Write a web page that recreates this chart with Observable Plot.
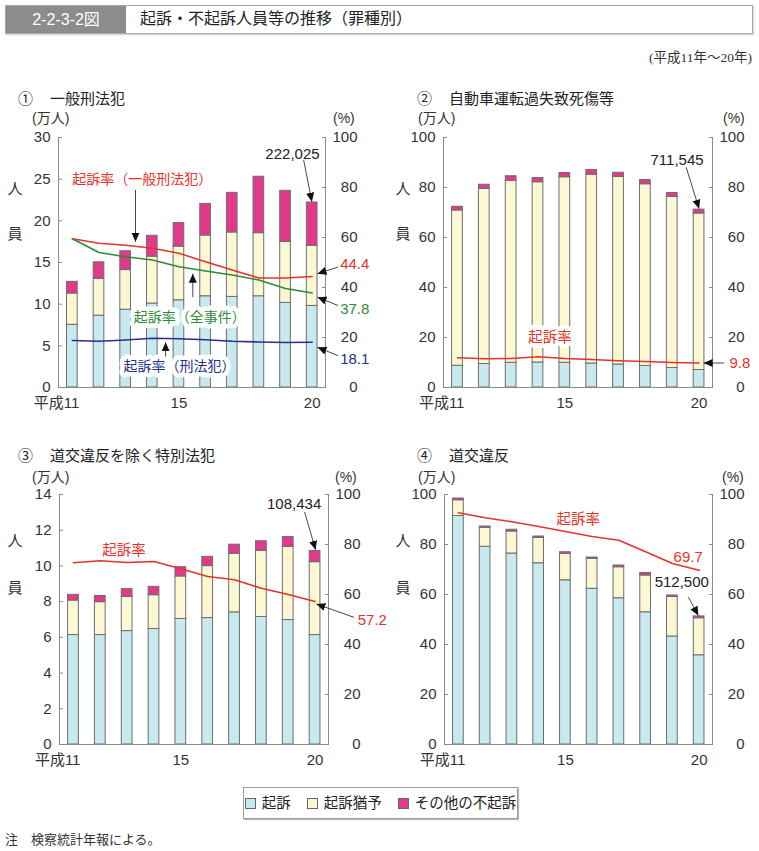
<!DOCTYPE html>
<html><head><meta charset="utf-8">
<script src="https://cdn.jsdelivr.net/npm/d3@7"></script>
<script src="https://cdn.jsdelivr.net/npm/@observablehq/plot@0.6"></script>
<style>
body{margin:0;background:#fff;}
#root{position:relative;width:759px;height:851px;overflow:hidden;font-family:"Liberation Sans","Noto Sans CJK JP",sans-serif;color:#333;}
.abs{position:absolute;white-space:nowrap;line-height:1;}
</style></head><body><div id="root"></div>
<script>
// ---------- data ----------
const years = [11,12,13,14,15,16,17,18,19,20];
const categories = ["起訴","起訴猶予","その他の不起訴"];
const catColors = ["#c8e9ed","#fbf8d3","#e3398a"];
const rateTicks = [0,20,40,60,80,100];
const xLabels = [{year:11,label:"平成11"},{year:15,label:"15"},{year:20,label:"20"}];

// ① 一般刑法犯 (万人)
const p1Kiso  = [7.53,8.62,9.34,10.07,10.47,10.95,10.87,10.95,10.15,9.79];
const p1Yuyo  = [3.75,4.43,4.75,5.63,6.44,7.29,7.73,7.57,7.33,7.21];
const p1Other = [1.40,1.97,2.26,2.50,2.82,3.79,4.76,6.77,6.12,5.20];
const p1RateIppan = [59.5,57.7,56.9,55.7,53.7,50.3,47.0,43.8,43.8,44.4];
const p1RateAll   = [59.5,54.0,52.3,51.0,48.3,46.6,45.0,43.0,39.6,37.8];
const p1RateKeiho = [18.8,18.5,19.0,19.7,19.5,19.1,18.5,18.2,18.0,18.1];
const p1YTicks = [0,5,10,15,20,25,30];

// ② 自動車運転過失致死傷等
const p2Kiso  = [8.7,9.4,9.9,10.0,9.9,9.6,9.2,8.6,7.8,7.0];
const p2Yuyo  = [62.1,70.0,72.8,72.1,74.2,75.5,75.0,72.7,68.4,62.6];
const p2Other = [1.5,1.7,1.8,1.7,1.7,1.9,1.7,1.7,1.6,1.55];
const p2Rate  = [11.9,11.5,11.6,12.3,11.6,11.2,10.7,10.4,10.0,9.8];
const p2YTicks = [0,20,40,60,80,100];

// ③ 道交違反を除く特別法犯
const p3Kiso  = [6.13,6.13,6.35,6.47,7.03,7.08,7.40,7.14,6.97,6.13];
const p3Yuyo  = [1.93,1.84,1.92,1.89,2.38,2.91,3.28,3.71,4.09,4.08];
const p3Other = [0.32,0.35,0.43,0.47,0.52,0.52,0.51,0.53,0.56,0.63];
const p3Rate  = [72.7,73.5,72.8,73.2,70.3,67.2,65.9,62.5,60.0,57.2];
const p3YTicks = [0,2,4,6,8,10,12,14];

// ④ 道交違反
const p4Kiso  = [91.4,79.1,76.4,72.5,65.7,62.3,58.5,52.9,43.2,35.7];
const p4Yuyo  = [6.3,7.6,8.8,10.1,10.5,11.9,12.4,14.7,15.8,14.8];
const p4Other = [0.7,0.5,0.7,0.6,0.7,0.6,0.7,1.0,0.6,0.75];
const p4Rate  = [92.7,90.7,89.1,87.2,85.2,83.2,81.7,77.1,72.4,69.7];
const p4YTicks = [0,20,40,60,80,100];

const RED = "#e6332a", GREEN = "#2f8a3c", BLUE = "#24318e";

// ---------- helpers ----------
const root = document.getElementById("root");
function put(text, x, y, o = {}) {
  const d = document.createElement("div");
  d.className = "abs"; d.textContent = text;
  d.style.left = x + "px"; d.style.top = y + "px";
  const tx = o.align === "right" ? "-100%" : o.align === "center" ? "-50%" : "0";
  d.style.transform = `translate(${tx},-50%)`;
  d.style.fontSize = (o.size || 14) + "px";
  if (o.color) d.style.color = o.color;
  if (o.font) d.style.fontFamily = o.font;
  root.appendChild(d);
  return d;
}

const xDomain = [10.48, 20.5];

function panel(cfg, id) {
  const {kiso, yuyo, other, ymax, yTicks, lines, texts, links, ml, mr, w, left, top} = cfg;
  const rows = [];
  years.forEach((yr, i) => {
    const parts = [kiso[i], yuyo[i], other[i]];
    let base = 0;
    parts.forEach((v, k) => { rows.push({year: yr, cat: categories[k], y1: base, y2: base + v}); base += v; });
  });
  const k = ymax / 100;
  const marks = [
    Plot.rectY(rows, {x1: d => d.year - 0.2, x2: d => d.year + 0.2, y1: "y1", y2: "y2", fill: "cat", stroke: "#6e6e6e", strokeWidth: 1}),
    Plot.ruleY([0], {stroke: "#8a8a8a"}),
    Plot.ruleX(xDomain, {y1: 0, y2: ymax, stroke: "#8a8a8a"}),
    Plot.axisY(yTicks, {anchor: "left", tickSize: -4, tickPadding: 12, stroke: "#8a8a8a", fill: "#333", fontSize: 15}),
    Plot.axisY(rateTicks.map(v => v * k), {anchor: "right", tickSize: -4, tickPadding: 36, textAnchor: "end",
      tickFormat: d => String(Math.round(d / k)), stroke: "#8a8a8a", fill: "#333", fontSize: 15}),
    ...lines.map(L => Plot.line(years.map((yr, i) => ({year: yr, v: L.values[i] * k})), {x: "year", y: "v", stroke: L.color, strokeWidth: 1.6})),
    Plot.text(xLabels.slice(0, 1), {x: "year", y: 0, text: "label", textAnchor: "end", dx: 7, dy: 16, fontSize: 15, fill: "#333"}),
    Plot.text(xLabels.slice(1), {x: "year", y: 0, text: "label", dy: 16, fontSize: 15, fill: "#333"}),
    Plot.link(links, {x1: "x1", y1: "y1", x2: "x2", y2: "y2", stroke: "#333", strokeWidth: 0.9}),
    ...texts.map(t => Plot.text([t], {x: "x", y: "y", text: "text", fill: t.color || "#333",
      textAnchor: t.anchor || "middle", fontSize: t.size || 14,
      ...(t.halo ? {stroke: "white", strokeWidth: 9, strokeLinejoin: "round", paintOrder: "stroke"} : {})}))
  ];
  const svg = Plot.plot({
    width: w, height: 312, marginLeft: ml, marginRight: mr, marginTop: 37, marginBottom: 25,
    x: {domain: xDomain, axis: null},
    y: {domain: [0, ymax]},
    color: {domain: categories, range: catColors},
    style: {fontFamily: '"Liberation Sans","Noto Sans CJK JP",sans-serif', fontSize: "15px", overflow: "visible", background: "transparent", color: "#333"},
    marks
  });
  const ns = "http://www.w3.org/2000/svg";
  const defs = document.createElementNS(ns, "defs");
  const marker = document.createElementNS(ns, "marker");
  marker.setAttribute("id", "ah" + id);
  marker.setAttribute("viewBox", "0 0 10 10");
  marker.setAttribute("refX", "10"); marker.setAttribute("refY", "5");
  marker.setAttribute("markerWidth", "9"); marker.setAttribute("markerHeight", "9");
  marker.setAttribute("markerUnits", "userSpaceOnUse"); marker.setAttribute("orient", "auto");
  const mp = document.createElementNS(ns, "path");
  mp.setAttribute("d", "M0,0.5L10,5L0,9.5Z"); mp.setAttribute("fill", "#111");
  marker.appendChild(mp); defs.appendChild(marker); svg.prepend(defs);
  svg.querySelectorAll('g[aria-label="link"] path').forEach(p => p.setAttribute("marker-end", `url(#ah${id})`));
  svg.style.position = "absolute"; svg.style.left = left + "px"; svg.style.top = top + "px";
  root.appendChild(svg);
}

// ---------- header ----------
const hdr = document.createElement("div");
hdr.className = "abs";
Object.assign(hdr.style, {left: "5px", top: "5px", width: "746px", height: "27px", border: "1px solid #a8a8a8", boxShadow: "1px 1px 2px #ccc", background: "#fff"});
root.appendChild(hdr);
const hb = document.createElement("div");
Object.assign(hb.style, {position: "absolute", left: "0", top: "0", width: "120px", height: "27px", background: "#8c8c8c", color: "#fff",
  fontFamily: '"Liberation Sans Narrow","Liberation Sans","Noto Sans CJK JP",sans-serif', fontSize: "16px", lineHeight: "27px", textAlign: "center"});
hb.textContent = "2-2-3-2図"; hdr.appendChild(hb);
put("起訴・不起訴人員等の推移（罪種別）", 140, 19, {size: 16, color: "#222"});
put("(平成11年〜20年)", 752, 58, {size: 13.5, align: "right", font: '"Liberation Serif","Noto Sans CJK JP",serif', color: "#333"});

// ---------- panel titles / unit labels ----------
function chrome(x0, y0, num, title) {
  put(num, x0 + 18, y0, {size: 15, color: "#222"});
  put(title, x0 + 50, y0, {size: 15, color: "#222"});
}
chrome(0, 98, "①", "一般刑法犯");
chrome(399, 98, "②", "自動車運転過失致死傷等");
chrome(0, 455, "③", "道交違反を除く特別法犯");
chrome(399, 455, "④", "道交違反");
[[32, 333, 118], [418, 723, 118], [32, 335, 477], [418, 722, 477]].forEach(([a, b, y]) => {
  put("(万人)", a, y, {size: 14}); put("(%)", b, y, {size: 14});
});
[[15, 188, 233], [403, 188, 233], [15, 540, 587], [403, 540, 587]].forEach(([x, y1, y2]) => {
  put("人", x, y1, {size: 15, align: "center"}); put("員", x, y2, {size: 15, align: "center"});
});

// ---------- panels ----------
panel({
  kiso: p1Kiso, yuyo: p1Yuyo, other: p1Other, ymax: 30, yTicks: p1YTicks,
  lines: [{values: p1RateIppan, color: RED}, {values: p1RateAll, color: GREEN}, {values: p1RateKeiho, color: BLUE}],
  texts: [
    {x: 13.62, y: 24.97, text: "起訴率（一般刑法犯）", color: RED, size: 14},
    {x: 15.41, y: 8.35, text: "起訴率（全事件）", color: GREEN, size: 14, halo: true},
    {x: 15.02, y: 2.49, text: "起訴率（刑法犯）", color: BLUE, size: 14, halo: true},
    {x: 19.26, y: 27.97, text: "222,025", color: "#222", size: 15},
    {x: 21.05, y: 14.77, text: "44.4", color: RED, anchor: "start", size: 15},
    {x: 21.05, y: 9.35, text: "37.8", color: GREEN, anchor: "start", size: 15},
    {x: 21.05, y: 3.42, text: "18.1", color: BLUE, anchor: "start", size: 15}
  ],
  links: [
    {x1: 13.37, y1: 23.7, x2: 13.37, y2: 17.5},
    {x1: 15.52, y1: 10.84, x2: 15.52, y2: 13.65},
    {x1: 14.5, y1: 3.61, x2: 14.5, y2: 5.42},
    {x1: 19.68, y1: 27.3, x2: 19.99, y2: 22.3},
    {x1: 20.97, y1: 14.45, x2: 20.2, y2: 13.65},
    {x1: 20.97, y1: 9.84, x2: 20.2, y2: 10.84},
    {x1: 20.97, y1: 3.82, x2: 20.2, y2: 4.82}
  ],
  ml: 58, mr: 55, w: 380, left: 0, top: 100
}, 1);

panel({
  kiso: p2Kiso, yuyo: p2Yuyo, other: p2Other, ymax: 100, yTicks: p2YTicks,
  lines: [{values: p2Rate, color: RED}],
  texts: [
    {x: 19.18, y: 90.9, text: "711,545", color: "#222", size: 15},
    {x: 14.45, y: 20.1, text: "起訴率", color: RED, size: 14.5, halo: true},
    {x: 21.13, y: 9.8, text: "9.8", color: RED, anchor: "start", size: 15}
  ],
  links: [
    {x1: 19.52, y1: 88.1, x2: 20.0, y2: 71.5},
    {x1: 20.94, y1: 9.8, x2: 20.17, y2: 9.8}
  ],
  ml: 63, mr: 47, w: 379, left: 380, top: 100
}, 2);

panel({
  kiso: p3Kiso, yuyo: p3Yuyo, other: p3Other, ymax: 14, yTicks: p3YTicks,
  lines: [{values: p3Rate, color: RED}],
  texts: [
    {x: 12.88, y: 10.87, text: "起訴率", color: RED, size: 14.5},
    {x: 19.22, y: 13.44, text: "108,434", color: "#222", size: 15},
    {x: 21.59, y: 6.97, text: "57.2", color: RED, anchor: "start", size: 15}
  ],
  links: [
    {x1: 19.61, y1: 13.02, x2: 20.02, y2: 10.9},
    {x1: 21.45, y1: 7.12, x2: 20.05, y2: 7.87}
  ],
  ml: 59, mr: 52, w: 380, left: 0, top: 457
}, 3);

panel({
  kiso: p4Kiso, yuyo: p4Yuyo, other: p4Other, ymax: 100, yTicks: p4YTicks,
  lines: [{values: p4Rate, color: RED}],
  texts: [
    {x: 15.48, y: 89.9, text: "起訴率", color: RED, size: 14.5},
    {x: 19.59, y: 75.1, text: "69.7", color: RED, size: 15},
    {x: 19.35, y: 65.0, text: "512,500", color: "#222", size: 15}
  ],
  links: [
    {x1: 19.6, y1: 58.9, x2: 19.97, y2: 51.6}
  ],
  ml: 64, mr: 47, w: 379, left: 380, top: 457
}, 4);

// ---------- legend ----------
const lg = document.createElement("div");
lg.className = "abs";
Object.assign(lg.style, {left: "243px", top: "787px", width: "273px", height: "30px", border: "1px solid #999",
  boxShadow: "1px 1px 1px #bbb", display: "flex", alignItems: "center", justifyContent: "center", gap: "16px", background: "#fff", fontSize: "14.5px", color: "#222"});
categories.forEach((c, i) => {
  const it = document.createElement("span");
  it.style.display = "flex"; it.style.alignItems = "center";
  const sw = document.createElement("span");
  Object.assign(sw.style, {display: "inline-block", width: "9px", height: "9px", background: catColors[i], border: "1px solid #666", marginRight: "6px"});
  it.appendChild(sw);
  it.appendChild(document.createTextNode(c));
  lg.appendChild(it);
});
root.appendChild(lg);

put("注　検察統計年報による。", 5, 839, {size: 13, font: '"Liberation Serif","Noto Sans CJK JP",serif', color: "#333"});
</script></body></html>
